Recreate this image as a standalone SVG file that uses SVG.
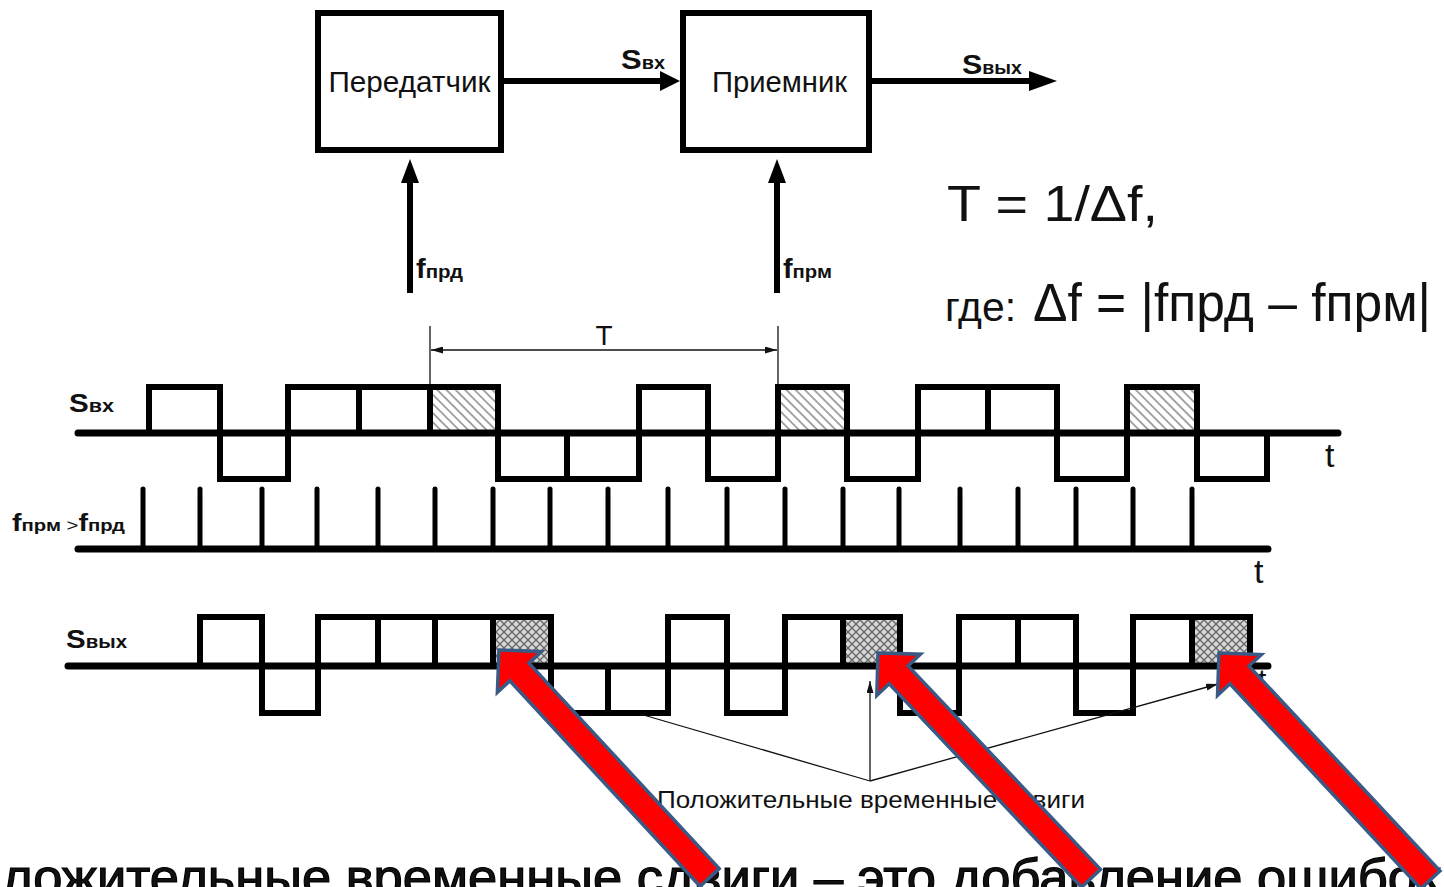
<svg xmlns="http://www.w3.org/2000/svg" width="1444" height="887" viewBox="0 0 1444 887">
<style>
.box{fill:#fff;stroke:#000;stroke-width:6}
.thick{fill:none;stroke:#000;stroke-width:6}
.base{fill:none;stroke:#000;stroke-width:7;stroke-linecap:round}
.bit{fill:none;stroke:#000;stroke-width:6}
.tick{stroke:#000;stroke-width:5;stroke-linecap:round}
.thin{fill:none;stroke:#111;stroke-width:1.3}
.lbl{font-family:"Liberation Sans",Arial,sans-serif;fill:#111}
.b{font-weight:bold}
.arrowR{fill:#ff0000;stroke:#3a5a86;stroke-width:3.5;stroke-linejoin:miter}
</style>
<defs>
<marker id="ah" viewBox="0 0 20 20" refX="2" refY="10" markerWidth="20" markerHeight="20" markerUnits="userSpaceOnUse" orient="auto"><path d="M0,0 L20,10 L0,20 z" fill="#000"/></marker>
<marker id="ahL" viewBox="0 0 28 20" refX="2" refY="10" markerWidth="28" markerHeight="20" markerUnits="userSpaceOnUse" orient="auto"><path d="M0,0 L28,10 L0,20 z" fill="#000"/></marker>
<marker id="ahV" viewBox="0 0 24 18" refX="2" refY="9" markerWidth="24" markerHeight="18" markerUnits="userSpaceOnUse" orient="auto"><path d="M0,0 L24,9 L0,18 z" fill="#000"/></marker>
<marker id="ahT" viewBox="0 0 12 7" refX="12" refY="3.5" markerWidth="12" markerHeight="7" markerUnits="userSpaceOnUse" orient="auto-start-reverse"><path d="M0,0 L12,3.5 L0,7 z" fill="#111"/></marker>
<pattern id="hatch" patternUnits="userSpaceOnUse" width="6.5" height="6.5" patternTransform="rotate(-45)"><line x1="1" y1="0" x2="1" y2="6.5" stroke="#777" stroke-width="1.3"/></pattern>
<pattern id="cross" patternUnits="userSpaceOnUse" width="8" height="8"><rect width="8" height="8" fill="#d8d8d8"/><path d="M0,0 L8,8 M8,0 L0,8" stroke="#666" stroke-width="1.3"/></pattern>
<polygon id="redArrow" points="0,0 30,-30 30,-13 310,-13 310,13 30,13 30,30"/>
</defs>
<rect width="1444" height="887" fill="#fff"/>

<g id="transmitter">
<rect class="box" x="318" y="13" width="183" height="137"/>
<text class="lbl" x="409.5" y="92" font-size="29" text-anchor="middle" textLength="162" lengthAdjust="spacingAndGlyphs">Передатчик</text>
</g>
<g id="receiver">
<rect class="box" x="683" y="13" width="186" height="137"/>
<text class="lbl" x="779.5" y="92" font-size="29" text-anchor="middle" textLength="135" lengthAdjust="spacingAndGlyphs">Приемник</text>
</g>

<g id="connectors">
<line class="thick" x1="504" y1="81" x2="662" y2="81" marker-end="url(#ah)"/>
<line class="thick" x1="872" y1="81" x2="1031" y2="81" marker-end="url(#ahL)"/>
<line class="thick" x1="410" y1="293" x2="410" y2="181" marker-end="url(#ahV)"/>
<line class="thick" x1="777" y1="293" x2="777" y2="181" marker-end="url(#ahV)"/>
</g>
<g id="block-labels">
<text class="lbl b" x="621" y="69" font-size="28" textLength="44" lengthAdjust="spacingAndGlyphs">S<tspan font-size="18">вх</tspan></text>
<text class="lbl b" x="962" y="74" font-size="28" textLength="60" lengthAdjust="spacingAndGlyphs">S<tspan font-size="18">вых</tspan></text>
<text class="lbl b" x="416" y="278" font-size="27" textLength="47" lengthAdjust="spacingAndGlyphs">f<tspan font-size="19">прд</tspan></text>
<text class="lbl b" x="783" y="278" font-size="27" textLength="49" lengthAdjust="spacingAndGlyphs">f<tspan font-size="19">прм</tspan></text>
</g>

<g id="formulas">
<text class="lbl" x="947" y="221" font-size="50" textLength="211" lengthAdjust="spacingAndGlyphs">T = 1/Δf,</text>
<text class="lbl" x="945" y="321" font-size="40" textLength="71" lengthAdjust="spacingAndGlyphs">где:</text>
<text class="lbl" x="1033" y="321" font-size="53" textLength="398" lengthAdjust="spacingAndGlyphs">Δf = |fпрд – fпрм|</text>
</g>

<g id="period-T">
<line class="thin" x1="430" y1="326" x2="430" y2="386"/>
<line class="thin" x1="778" y1="326" x2="778" y2="386"/>
<line class="thin" x1="431" y1="350" x2="777" y2="350" marker-start="url(#ahT)" marker-end="url(#ahT)"/>
<text class="lbl" x="604" y="345" font-size="28" text-anchor="middle">T</text>
</g>

<g id="s-in">
<text class="lbl b" x="69" y="412" font-size="26" textLength="45" lengthAdjust="spacingAndGlyphs">S<tspan font-size="19">вх</tspan></text>
<rect x="430" y="387" width="68" height="46" fill="url(#hatch)"/>
<rect x="778" y="387" width="69" height="46" fill="url(#hatch)"/>
<rect x="1127" y="387" width="70" height="46" fill="url(#hatch)"/>
<rect class="bit" x="149" y="387" width="71" height="46"/>
<rect class="bit" x="220" y="433" width="68" height="46"/>
<rect class="bit" x="288" y="387" width="71" height="46"/>
<rect class="bit" x="359" y="387" width="71" height="46"/>
<rect class="bit" x="430" y="387" width="68" height="46"/>
<rect class="bit" x="498" y="433" width="69" height="46"/>
<rect class="bit" x="567" y="433" width="72" height="46"/>
<rect class="bit" x="639" y="387" width="69" height="46"/>
<rect class="bit" x="708" y="433" width="70" height="46"/>
<rect class="bit" x="778" y="387" width="69" height="46"/>
<rect class="bit" x="847" y="433" width="71" height="46"/>
<rect class="bit" x="918" y="387" width="70" height="46"/>
<rect class="bit" x="988" y="387" width="69" height="46"/>
<rect class="bit" x="1057" y="433" width="70" height="46"/>
<rect class="bit" x="1127" y="387" width="70" height="46"/>
<rect class="bit" x="1197" y="433" width="70" height="46"/>
<line class="base" x1="78" y1="433" x2="1338" y2="433"/>
<text class="lbl" x="1325" y="467" font-size="34">t</text>
</g>

<g id="clock">
<text class="lbl b" x="12" y="531" font-size="24" textLength="113" lengthAdjust="spacingAndGlyphs">f<tspan font-size="17">прм</tspan><tspan font-size="17" font-weight="normal"> &gt;</tspan>f<tspan font-size="17">прд</tspan></text>
<path class="tick" d="M143,489V549M200,489V549M262,489V549M317,489V549M378,489V549M435,489V549M493,489V549M550,489V549M608,489V549M668,489V549M727,489V549M785,489V549M843,489V549M899,489V549M960,489V549M1018,489V549M1076,489V549M1133,489V549M1192,489V549"/>
<line class="base" x1="78" y1="549" x2="1268" y2="549"/>
<text class="lbl" x="1254" y="583" font-size="34">t</text>
</g>

<g id="s-out">
<text class="lbl b" x="66" y="648" font-size="26" textLength="61" lengthAdjust="spacingAndGlyphs">S<tspan font-size="18">вых</tspan></text>
<rect x="493" y="617" width="58" height="49" fill="url(#cross)"/>
<rect x="843" y="617" width="57" height="49" fill="url(#cross)"/>
<rect x="1192" y="617" width="58" height="49" fill="url(#cross)"/>
<rect class="bit" x="200" y="617" width="62" height="49"/>
<rect class="bit" x="262" y="666" width="56" height="47"/>
<rect class="bit" x="318" y="617" width="60" height="49"/>
<rect class="bit" x="378" y="617" width="57" height="49"/>
<rect class="bit" x="435" y="617" width="58" height="49"/>
<rect class="bit" x="493" y="617" width="58" height="49"/>
<rect class="bit" x="551" y="666" width="57" height="47"/>
<rect class="bit" x="608" y="666" width="60" height="47"/>
<rect class="bit" x="668" y="617" width="59" height="49"/>
<rect class="bit" x="727" y="666" width="58" height="47"/>
<rect class="bit" x="785" y="617" width="58" height="49"/>
<rect class="bit" x="843" y="617" width="57" height="49"/>
<rect class="bit" x="900" y="666" width="59" height="47"/>
<rect class="bit" x="959" y="617" width="59" height="49"/>
<rect class="bit" x="1018" y="617" width="58" height="49"/>
<rect class="bit" x="1076" y="666" width="57" height="47"/>
<rect class="bit" x="1133" y="617" width="59" height="49"/>
<rect class="bit" x="1192" y="617" width="58" height="49"/>
<line class="base" x1="68" y1="666" x2="1268" y2="666"/>
<text class="lbl" x="1258" y="690" font-size="30">t</text>
</g>

<g id="shift-callout">
<line class="thin" x1="870" y1="781" x2="640" y2="714"/>
<line class="thin" x1="870" y1="781" x2="870" y2="681" marker-end="url(#ahT)"/>
<line class="thin" x1="870" y1="781" x2="1218" y2="684" marker-end="url(#ahT)"/>
<text class="lbl" x="657" y="808" font-size="24" fill="#222" textLength="428" lengthAdjust="spacingAndGlyphs">Положительные временные сдвиги</text>
</g>

<g id="caption">
<text class="lbl" x="2" y="895" font-size="52.5" fill="#000" stroke="#000" stroke-width="1.2">ложительные временные сдвиги – это добавление ошибок</text>
</g>

<g id="red-arrows">
<use href="#redArrow" class="arrowR" transform="translate(499,650) rotate(47.2)"/>
<use href="#redArrow" class="arrowR" transform="translate(878,653) rotate(46.6)"/>
<use href="#redArrow" class="arrowR" transform="translate(1219,653) rotate(47)"/>
</g>
</svg>
